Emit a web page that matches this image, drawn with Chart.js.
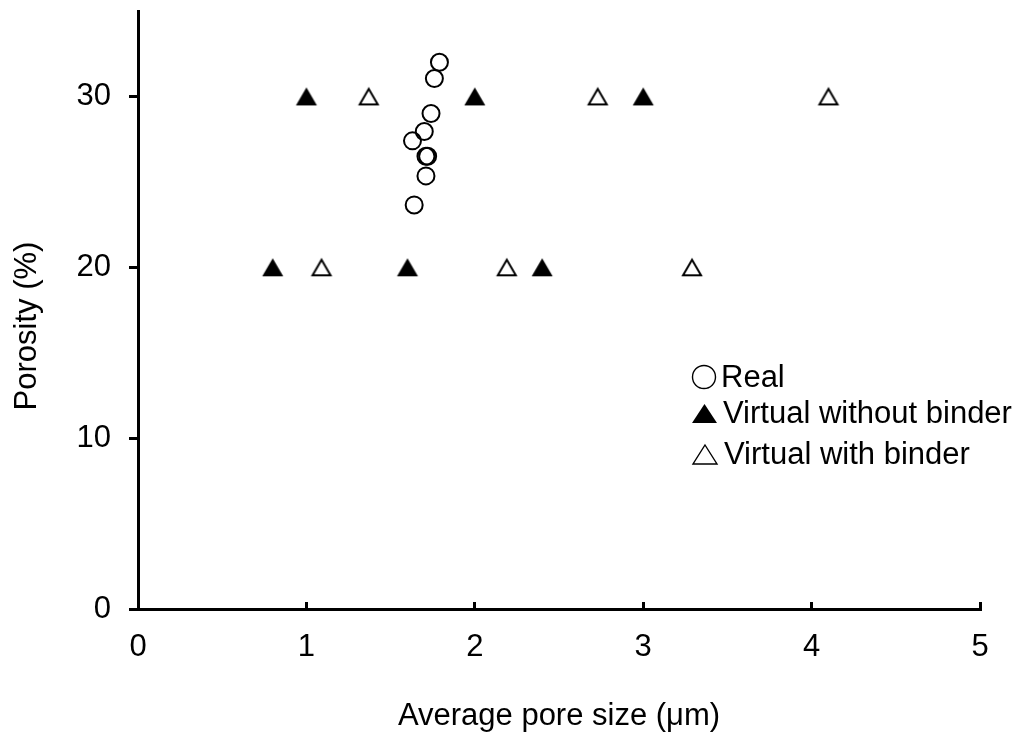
<!DOCTYPE html>
<html>
<head>
<meta charset="utf-8">
<title>Porosity vs average pore size</title>
<script src="https://cdn.jsdelivr.net/npm/chart.js@4/dist/chart.umd.min.js"></script>
<style>
  html, body { margin: 0; padding: 0; background: #fff; }
  #wrap { position: relative; width: 1027px; height: 744px; }
  #plot { position: absolute; left: 0; top: 0; }
  #labels { position: absolute; left: 0; top: 0; pointer-events: none; }
  #labels text { font-family: 'Liberation Sans', Arial, sans-serif; font-size: 31px; fill: #000; }
</style>
</head>
<body>
<div id="wrap">
  <canvas id="plot" width="1027" height="744"></canvas>
  <svg id="labels" width="1027" height="744">
    <!-- y axis title -->
    <text transform="translate(36,326) rotate(-90)" text-anchor="middle">Porosity (%)</text>
    <!-- legend -->
    <circle cx="704" cy="377" r="11.5" fill="none" stroke="#000" stroke-width="1.4"></circle>
    <text x="721" y="387">Real</text>
    <polygon points="704.5,404 717,423 692,423" fill="#000"></polygon>
    <text x="723" y="423">Virtual without binder</text>
    <polygon points="705,445 717,464 693,464" fill="none" stroke="#000" stroke-width="1.4"></polygon>
    <text x="724" y="464">Virtual with binder</text>
  </svg>
</div>
<script>
'use strict';

// Measured samples
const realPoreSize = [1.79, 1.76, 1.74, 1.70, 1.63, 1.71, 1.72, 1.71, 1.64];
const realPorosity = [32.0, 31.05, 29.0, 27.95, 27.4, 26.5, 26.5, 25.35, 23.65];

// Virtual structures, no binder
const noBinderPoreSize = [1.0, 2.0, 3.0, 0.8, 1.6, 2.4];
const noBinderPorosity = [30, 30, 30, 20, 20, 20];

// Virtual structures with binder
const binderPoreSize = [1.37, 2.73, 4.10, 1.09, 2.19, 3.29];
const binderPorosity = [30, 30, 30, 20, 20, 20];

const xTicks = [0, 1, 2, 3, 4, 5];
const yTicks = [0, 10, 20, 30];

const FONT = { family: "'Liberation Sans', Arial, sans-serif", size: 31 };

function toPoints(xs, ys) {
  return xs.map((x, i) => ({ x: x, y: ys[i] }));
}

// Triangle markers centred on their bounding box
function makeTriangle(filled) {
  const c = document.createElement('canvas');
  c.width = 24;
  c.height = 22;
  const ctx = c.getContext('2d');
  ctx.beginPath();
  if (filled) {
    ctx.moveTo(12, 2);
    ctx.lineTo(22.5, 20);
    ctx.lineTo(1.5, 20);
    ctx.closePath();
    ctx.fillStyle = '#000';
    ctx.fill();
  } else {
    ctx.moveTo(12, 3.5);
    ctx.lineTo(21, 19);
    ctx.lineTo(3, 19);
    ctx.closePath();
    ctx.lineWidth = 2;
    ctx.lineJoin = 'miter';
    ctx.strokeStyle = '#000';
    ctx.stroke();
  }
  return c;
}

// keep the plot box fixed: no extra room reserved for end labels
function noEdgePadding(scale) {
  scale.paddingTop = 0;
  scale.paddingBottom = 0;
  scale.paddingLeft = 0;
  scale.paddingRight = 0;
}

new Chart(document.getElementById('plot').getContext('2d'), {
  type: 'scatter',
  data: {
    datasets: [
      {
        label: 'Real',
        data: toPoints(realPoreSize, realPorosity),
        pointStyle: 'circle',
        pointRadius: 8.5,
        borderWidth: 2,
        borderColor: '#000',
        backgroundColor: 'rgba(0,0,0,0)'
      },
      {
        label: 'Virtual without binder',
        data: toPoints(noBinderPoreSize, noBinderPorosity),
        pointStyle: makeTriangle(true)
      },
      {
        label: 'Virtual with binder',
        data: toPoints(binderPoreSize, binderPorosity),
        pointStyle: makeTriangle(false)
      }
    ]
  },
  options: {
    responsive: false,
    animation: false,
    devicePixelRatio: 1,
    layout: { padding: { left: 0, top: 11, right: 47, bottom: 0 } },
    plugins: {
      legend: { display: false },
      tooltip: { enabled: false }
    },
    scales: {
      x: {
        type: 'linear',
        min: xTicks[0],
        max: xTicks[xTicks.length - 1],
        afterFit: (scale) => { scale.height = 135; noEdgePadding(scale); },
        afterBuildTicks: (scale) => { scale.ticks = xTicks.map(v => ({ value: v })); },
        border: { display: true, color: '#000', width: 3 },
        grid: { drawOnChartArea: false, drawTicks: true, tickLength: -7, tickWidth: 3, color: '#000' },
        ticks: { color: '#000', font: FONT, padding: 27, maxRotation: 0, autoSkip: false },
        title: {
          display: true,
          text: 'Average pore size (μm)',
          color: '#000',
          font: FONT,
          padding: { top: 0, bottom: 9 }
        }
      },
      y: {
        type: 'linear',
        min: 0,
        max: 35,
        afterFit: (scale) => { scale.width = 138; noEdgePadding(scale); },
        afterBuildTicks: (scale) => { scale.ticks = yTicks.map(v => ({ value: v })); },
        border: { display: true, color: '#000', width: 3 },
        grid: { drawOnChartArea: false, drawTicks: true, tickLength: 9, tickWidth: 3, color: '#000' },
        ticks: { color: '#000', font: FONT, padding: 18 }
      }
    }
  }
});
</script>
</body>
</html>
